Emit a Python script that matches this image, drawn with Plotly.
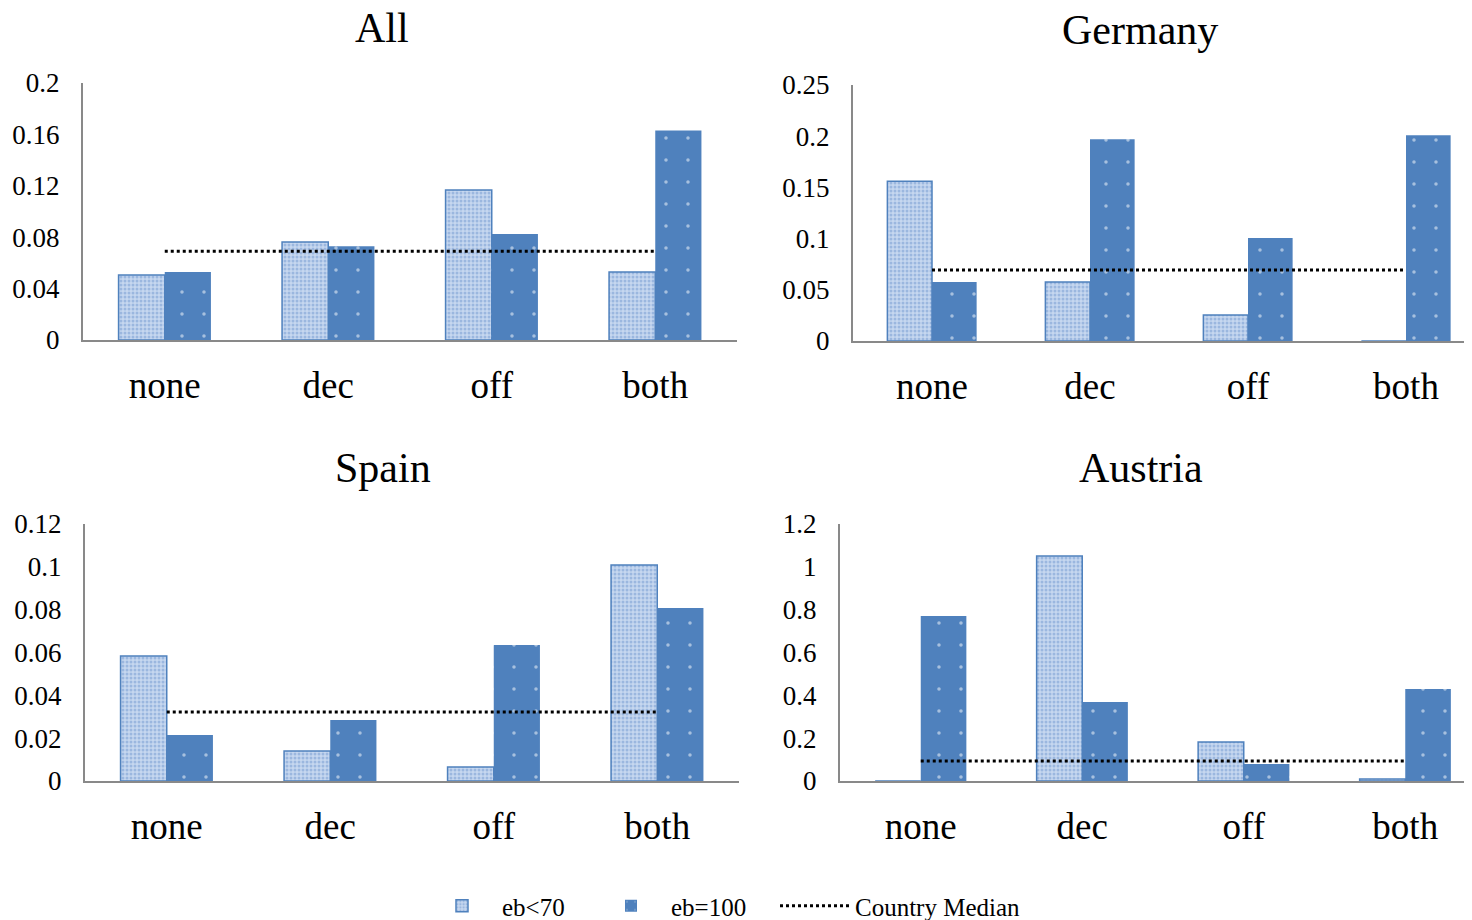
import plotly.graph_objects as go

categories = ["none", "dec", "off", "both"]

panels = ["All", "Germany", "Spain", "Austria"]
eb70 = {
    "All": [0.0505, 0.0763, 0.1167, 0.053],
    "Germany": [0.156, 0.0576, 0.0254, 0.0],
    "Spain": [0.0584, 0.014, 0.0065, 0.1009],
    "Austria": [0.0, 1.05, 0.182, 0.009],
}
eb100 = {
    "All": [0.053, 0.073, 0.0825, 0.163],
    "Germany": [0.0576, 0.197, 0.1006, 0.201],
    "Spain": [0.0215, 0.0285, 0.0635, 0.0808],
    "Austria": [0.770, 0.369, 0.079, 0.4296],
}
median = {"All": 0.069, "Germany": 0.0693, "Spain": 0.0322, "Austria": 0.093}

yticks = {
    "All": [0, 0.04, 0.08, 0.12, 0.16, 0.2],
    "Germany": [0, 0.05, 0.1, 0.15, 0.2, 0.25],
    "Spain": [0, 0.02, 0.04, 0.06, 0.08, 0.1, 0.12],
    "Austria": [0, 0.2, 0.4, 0.6, 0.8, 1, 1.2],
}
yticklabels = {
    "All": ["0", "0.04", "0.08", "0.12", "0.16", "0.2"],
    "Germany": ["0", "0.05", "0.1", "0.15", "0.2", "0.25"],
    "Spain": ["0", "0.02", "0.04", "0.06", "0.08", "0.1", "0.12"],
    "Austria": ["0", "0.2", "0.4", "0.6", "0.8", "1", "1.2"],
}

# page has an 8px body margin: figure pixel = screen pixel - 8
OFF = 8
W, H = 1472 - OFF, 920 - OFF
# screen-pixel geometry: (x_left, x_right_visible, x_right_full, y_top, y_bottom)
geom = {
    "All": (83, 737, 737, 83, 340),
    "Germany": (853, 1472, 1485, 85, 341),
    "Spain": (85, 739, 739, 524, 781),
    "Austria": (840, 1472, 1486, 524, 781),
}
title_pos = {"All": (382, 28), "Germany": (1140, 30), "Spain": (383, 468), "Austria": (1141, 468)}

DARK = "#4F81BD"
LIGHT_BG = "#C6D7EF"
LIGHT_FG = "#7098D0"
FONT = "Liberation Serif, Times New Roman, serif"

def px(x):
    return (x - OFF) / W

def py(y):
    return 1 - (y - OFF) / H

fig = go.Figure()
layout = {}
annotations = []
for i, p in enumerate(panels):
    n = "" if i == 0 else str(i + 1)
    xa, ya = "x" + n, "y" + n
    x0, x1v, x1f, yt, yb = geom[p]
    unit = (x1f - x0) / 4.0
    rmax = -0.5 + (x1v - x0) / unit
    fig.add_trace(go.Bar(
        x=categories, y=eb70[p], name="eb<70", xaxis=xa, yaxis=ya,
        showlegend=(i == 0), legendgroup="a", legend="legend",
        marker=dict(color=LIGHT_BG, line=dict(color=DARK, width=1.5),
                    pattern=dict(shape=".", fgcolor=LIGHT_FG, bgcolor=LIGHT_BG,
                                 size=4, solidity=0.45)),
    ))
    fig.add_trace(go.Bar(
        x=categories, y=eb100[p], name="eb=100", xaxis=xa, yaxis=ya,
        showlegend=(i == 0), legendgroup="b", legend="legend",
        marker=dict(color=DARK, line=dict(color=DARK, width=0),
                    pattern=dict(shape=".", fgcolor="white", bgcolor=DARK,
                                 size=22, solidity=0.02)),
    ))
    fig.add_trace(go.Scatter(
        x=categories, y=[median[p]] * 4, name="Country Median", xaxis=xa, yaxis=ya,
        mode="lines", showlegend=(i == 0), legendgroup="c", legend="legend2",
        line=dict(color="black", width=3, dash="dot"),
    ))
    layout["xaxis" + n] = dict(
        domain=[px(x0), min(px(x1v), 1.0)], anchor=ya, type="category",
        categoryorder="array", categoryarray=categories,
        range=[-0.5, rmax], showline=True, linecolor="#898989", linewidth=2,
        showgrid=False, ticks="", tickfont=dict(size=37, family=FONT, color="black"),
        ticklabelstandoff=12, zeroline=False, automargin=False,
    )
    layout["yaxis" + n] = dict(
        domain=[py(yb), py(yt)], anchor=xa,
        range=[0, yticks[p][-1]], tickvals=yticks[p], ticktext=yticklabels[p],
        showline=True, linecolor="#898989", linewidth=2, showgrid=False,
        zeroline=False, ticks="", tickfont=dict(size=27, family=FONT, color="black"),
        ticklabelstandoff=16, automargin=False,
    )
    tx, ty = title_pos[p]
    annotations.append(dict(text=p, x=px(tx), y=py(ty), xref="paper", yref="paper",
                            showarrow=False, xanchor="center", yanchor="middle",
                            font=dict(size=42, family=FONT, color="black")))

leg_common = dict(orientation="h", yanchor="middle", y=py(906),
                  font=dict(size=25, family=FONT, color="black"), itemwidth=70,
                  bgcolor="rgba(0,0,0,0)", borderwidth=0, xanchor="left")

fig.update_layout(
    **layout,
    annotations=annotations,
    width=W, height=H,
    margin=dict(l=0, r=0, t=0, b=0, autoexpand=False),
    paper_bgcolor="white", plot_bgcolor="white",
    barmode="group", bargap=0.435, bargroupgap=0,
    showlegend=True,
    legend=dict(x=px(422), entrywidth=84, **leg_common),
    legend2=dict(x=px(775), **leg_common),
    font=dict(family=FONT),
)

fig.write_html("out.html")
